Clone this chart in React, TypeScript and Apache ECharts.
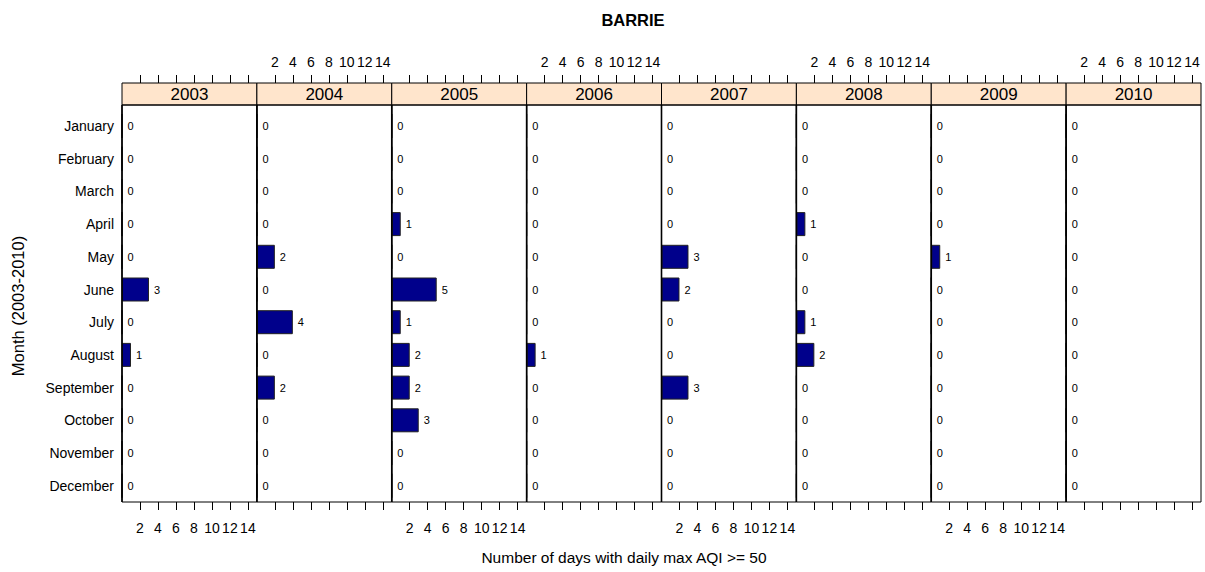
import React, { useEffect, useRef } from "react";
import * as echarts from "echarts";

const months = ["January","February","March","April","May","June","July","August","September","October","November","December"];
const years = ["2003","2004","2005","2006","2007","2008","2009","2010"];
const d2003 = [0,0,0,0,0,3,0,1,0,0,0,0];
const d2004 = [0,0,0,0,2,0,4,0,2,0,0,0];
const d2005 = [0,0,0,1,0,5,1,2,2,3,0,0];
const d2006 = [0,0,0,0,0,0,0,1,0,0,0,0];
const d2007 = [0,0,0,0,3,2,0,0,3,0,0,0];
const d2008 = [0,0,0,1,0,0,1,2,0,0,0,0];
const d2009 = [0,0,0,0,1,0,0,0,0,0,0,0];
const d2010 = [0,0,0,0,0,0,0,0,0,0,0,0];
const yearData = [d2003,d2004,d2005,d2006,d2007,d2008,d2009,d2010];
const xTicks = [2,4,6,8,10,12,14];
const xMax = 15;

const FONT = "Liberation Sans, Arial, sans-serif";

export default function App() {
  const ref = useRef<HTMLDivElement>(null);
  useEffect(() => {
    document.body.style.margin = "0";
    if (!ref.current) return;
    const chart = echarts.init(ref.current, undefined, { renderer: "svg" });
    const L = 122, R = 1201;
    const pw = (R - L) / years.length;
    const panelTop = 105, panelBottom = 502, stripTop = 83;
    const band = 32.7;
    const gridH = band * 12;
    const gridTop = 126 - band / 2;
    const grids: any[] = [], xAxes: any[] = [], yAxes: any[] = [], series: any[] = [], graphics: any[] = [];
    years.forEach((yr, i) => {
      const left = L + i * pw;
      grids.push({ left, top: gridTop, width: pw, height: gridH, containLabel: false });
      const tickCommon = {
        show: true, length: 8, inside: false, customValues: xTicks,
        lineStyle: { color: "#000", width: 1 },
      };
      xAxes.push({
        type: "value", gridIndex: i, position: "bottom", min: 0, max: xMax,
        offset: panelBottom - (gridTop + gridH),
        axisLine: { show: false }, splitLine: { show: false },
        axisTick: tickCommon,
        axisLabel: { show: i % 2 === 0, customValues: xTicks, margin: 19, fontSize: 14, color: "#000", fontFamily: FONT },
      });
      xAxes.push({
        type: "value", gridIndex: i, position: "top", min: 0, max: xMax,
        offset: gridTop - stripTop,
        axisLine: { show: false }, splitLine: { show: false },
        axisTick: tickCommon,
        axisLabel: { show: i % 2 === 1, customValues: xTicks, margin: 14, fontSize: 14, color: "#000", fontFamily: FONT },
      });
      yAxes.push({
        type: "category", gridIndex: i, data: months, inverse: true,
        axisLine: { show: false }, axisTick: { show: false }, splitLine: { show: false },
        axisLabel: { show: i === 0, margin: 8, fontSize: 14, color: "#000", fontFamily: FONT },
      });
      series.push({
        type: "bar", name: yr, xAxisIndex: 2 * i, yAxisIndex: i,
        data: yearData[i], barWidth: 24,
        itemStyle: { color: "#00008B", borderColor: "#222", borderWidth: 1 },
        label: { show: true, position: "right", distance: 5, fontSize: 11, color: "#000", fontFamily: FONT },
      });
      graphics.push({
        type: "rect", z: 0,
        shape: { x: left, y: stripTop, width: pw, height: panelTop - stripTop },
        style: { fill: "#FFE5CC", stroke: "#000", lineWidth: 1 },
      });
      graphics.push({
        type: "text", z: 5, x: left + pw / 2, y: (stripTop + panelTop) / 2,
        style: { text: yr, fontSize: 17, fill: "#000", fontFamily: FONT, align: "center", verticalAlign: "middle" },
      });
      graphics.push({
        type: "rect", z: 10,
        shape: { x: left, y: panelTop, width: pw, height: panelBottom - panelTop },
        style: { fill: "none", stroke: "#000", lineWidth: 1 },
      });
      graphics.push({
        type: "line", z: 11,
        shape: { x1: left, y1: panelTop, x2: left, y2: panelBottom },
        style: { stroke: "#000", lineWidth: 1.6 },
      });
    });
    graphics.push({
      type: "text", x: 633, y: 20,
      style: { text: "BARRIE", fontSize: 16.5, fontWeight: "bold", fill: "#000", fontFamily: FONT, align: "center", verticalAlign: "middle" },
    });
    graphics.push({
      type: "text", x: 624, y: 557,
      style: { text: "Number of days with daily max AQI >= 50", fontSize: 15.5, fill: "#000", fontFamily: FONT, align: "center", verticalAlign: "middle" },
    });
    graphics.push({
      type: "text", x: 18, y: 306, rotation: Math.PI / 2,
      style: { text: "Month (2003-2010)", fontSize: 16.5, fill: "#000", fontFamily: FONT, align: "center", verticalAlign: "middle" },
    });
    chart.setOption({
      animation: false,
      backgroundColor: "#fff",
      textStyle: { fontFamily: FONT },
      grid: grids, xAxis: xAxes, yAxis: yAxes, series, graphic: graphics,
    });
    return () => chart.dispose();
  }, []);
  return <div ref={ref} style={{ width: 1205, height: 572 }} />;
}
